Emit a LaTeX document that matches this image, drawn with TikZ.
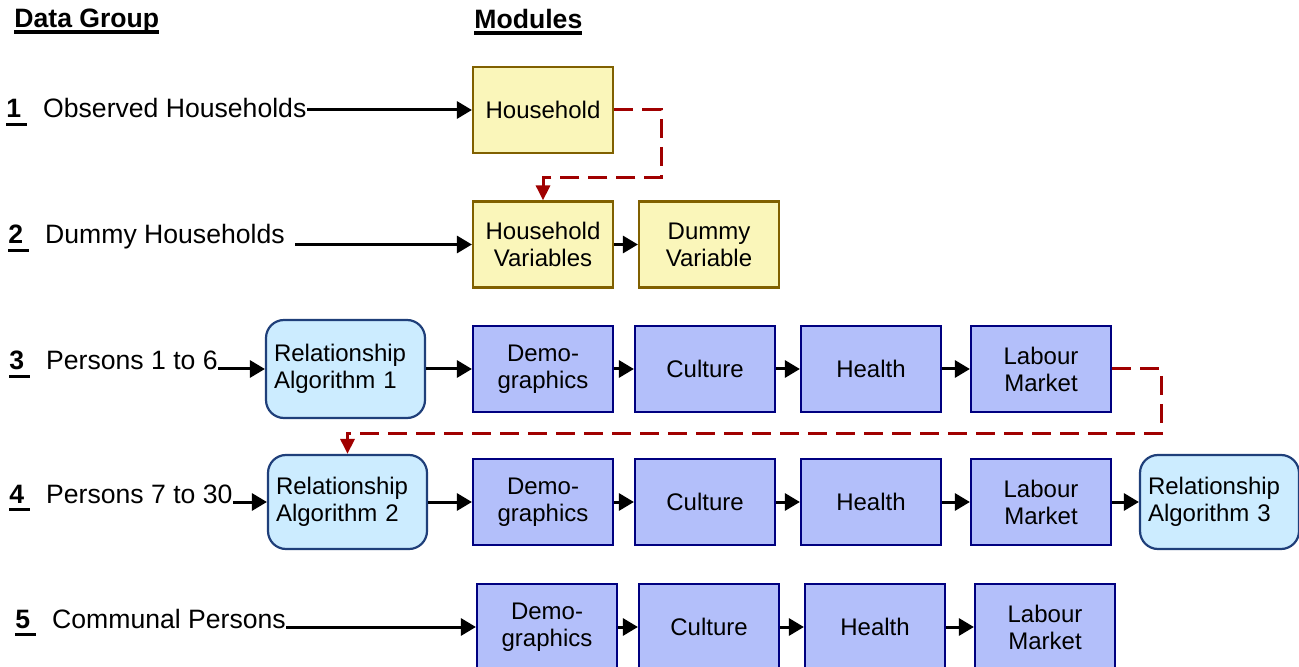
\documentclass[tikz,border=0pt]{standalone}
\usepackage{fontspec}
\setmainfont{Liberation Sans}
\usepackage{xcolor}
\usepackage{tikz}
\usetikzlibrary{arrows.meta,positioning,calc}

\definecolor{hhfill}{HTML}{FAF6BA}
\definecolor{hhline}{HTML}{806000}
\definecolor{modfill}{HTML}{B3BFFA}
\definecolor{modline}{HTML}{000080}
\definecolor{relfill}{HTML}{CCECFF}
\definecolor{relline}{HTML}{1F3F7A}
\definecolor{linkred}{HTML}{A00000}

% underlined text: extra rule width, rule depth, text
\newcommand{\ulbox}[3]{\setbox0=\hbox{#3}\rlap{\rule[#2]{\dimexpr\wd0+#1\relax}{1.6pt}}\box0}
\newcommand{\grpnum}[2]{\ulbox{3pt}{-4pt}{\textbf{#1}}\hspace{11pt}#2}

\begin{document}
\begin{tikzpicture}[x=0.5pt,y=-0.5pt,
  hh/.style={draw=hhline,fill=hhfill,line width=1.1pt,minimum width=70pt,minimum height=43pt,
    inner sep=0pt,align=center,font=\fontsize{12}{13.5}\selectfont},
  mod/.style={hh,draw=modline,fill=modfill},
  rel/.style={draw=relline,fill=relfill,line width=1.1pt,rounded corners=9pt,text width=71.5pt,
    inner xsep=4pt,inner ysep=0pt,align=left,minimum height=47pt,font=\fontsize{12}{13.5}\selectfont},
  grp/.style={anchor=base west,inner sep=0pt,font=\fontsize{13.3}{16}\selectfont},
  hd/.style={grp,font=\fontsize{13.3}{16}\selectfont\bfseries},
  fw/.style={-{Triangle[length=7.5pt,width=8.5pt]},line width=1.5pt},
  link/.style={-{Triangle[length=7.5pt,width=7pt]},linkred,line width=1.5pt,dash pattern=on 9.5pt off 4.5pt}]
  \clip (0,0) rectangle (1299,667);

  % column headings
  \node[hd] (dg) at (14,28) {\ulbox{0pt}{-2.8pt}{Data Group}};
  \node[hd] (md) at (474,29) {\ulbox{0pt}{-2.8pt}{Modules}};

  % households
  \node[grp] (g1) at (6,118) {\grpnum{1}{Observed Households}};
  \node[hh] (hh) at (543,110) {Household};
  \draw[fw] (hh.west -| g1.east) -- (hh.west);

  \node[grp] (g2) at (8,244) {\grpnum{2}{Dummy Households}};
  \node[hh] (hv) at (543,244.5) {Household\\Variables};
  \node[hh] (dv) at (709,244.5) {Dummy\\Variable};
  \draw[fw] ([xshift=5pt]hv.west -| g2.east) -- (hv.west);
  \draw[fw] (hv) -- (dv);
  \draw[link] (hh.east) -- ++(47,0) |- ($(hh.south)!.5!(hv.north)$) -| (hv.north);

  % persons
  \node[grp] (g3) at (9,370) {\grpnum{3}{Persons 1 to 6}};
  \node[rel,minimum height=49pt] (ra1) at (345.5,369) {Relationship\\Algorithm 1};
  \node[mod] (dem3) at (543,369) {Demo-\\graphics};
  \node[mod] (cul3) at (705,369) {Culture};
  \node[mod] (hea3) at (871,369) {Health};
  \node[mod] (lab3) at (1041,369) {Labour\\Market};
  \draw[fw] (ra1.west -| g3.east) -- (ra1.west);
  \foreach \a/\b in {ra1/dem3,dem3/cul3,cul3/hea3,hea3/lab3}
    \draw[fw] (\a) -- (\b);

  \node[grp] (g4) at (9,503) {\grpnum{4}{Persons 7 to 30}};
  \node[rel] (ra2) at (347.5,502) {Relationship\\Algorithm 2};
  \node[mod] (dem4) at (543,502) {Demo-\\graphics};
  \node[mod] (cul4) at (705,502) {Culture};
  \node[mod] (hea4) at (871,502) {Health};
  \node[mod] (lab4) at (1041,502) {Labour\\Market};
  \node[rel] (ra3) at (1219.5,502) {Relationship\\Algorithm 3};
  \draw[fw] (ra2.west -| g4.east) -- (ra2.west);
  \foreach \a/\b in {ra2/dem4,dem4/cul4,cul4/hea4,hea4/lab4,lab4/ra3}
    \draw[fw] (\a) -- (\b);
  \draw[link] (lab3.east) -- ++(49,0) |- ($(lab3.south)!.5!(ra2.north)$) -| (ra2.north);

  % communal persons
  \node[grp] (g5) at (15,628) {\grpnum{5}{Communal Persons}};
  \node[mod] (dem5) at (547,627) {Demo-\\graphics};
  \node[mod] (cul5) at (709,627) {Culture};
  \node[mod] (hea5) at (875,627) {Health};
  \node[mod] (lab5) at (1045,627) {Labour\\Market};
  \draw[fw] (dem5.west -| g5.east) -- (dem5.west);
  \foreach \a/\b in {dem5/cul5,cul5/hea5,hea5/lab5}
    \draw[fw] (\a) -- (\b);
\end{tikzpicture}
\end{document}
